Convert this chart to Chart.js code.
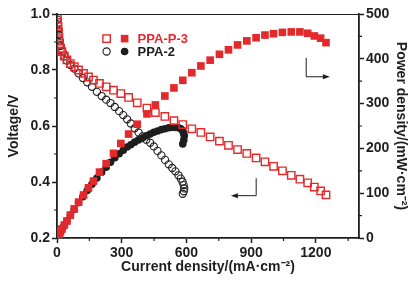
<!DOCTYPE html>
<html>
<head>
<meta charset="utf-8">
<script src="https://cdn.jsdelivr.net/npm/chart.js@4.4.0/dist/chart.umd.min.js"></script>
<style>
  html, body { margin: 0; padding: 0; background: #fff; }
</style>
</head>
<body>
<canvas id="chartPolar" width="415" height="282"></canvas>
<script>
// PPA-P-3 : current density, voltage, power density
const currentP3 = [2, 3, 5, 7, 9, 12, 16, 23, 34, 46, 62, 80, 100, 123, 146, 169, 197, 228, 262, 296,
  332, 372, 417, 456, 500, 542, 583, 625, 667, 710, 753, 795, 837, 880, 923, 964, 1004, 1045, 1086, 1126,
  1162, 1193, 1222, 1247];
const voltageP3 = [0.985, 0.970, 0.955, 0.935, 0.915, 0.895, 0.877, 0.866, 0.850, 0.836, 0.823, 0.812, 0.800, 0.788, 0.775, 0.764, 0.752, 0.740, 0.728, 0.716,
  0.702, 0.683, 0.664, 0.648, 0.634, 0.619, 0.605, 0.590, 0.577, 0.561, 0.546, 0.531, 0.516, 0.502, 0.486, 0.472, 0.456, 0.440, 0.424, 0.410,
  0.397, 0.382, 0.368, 0.354];
const powerP3 = [2, 3, 5, 7, 8, 11, 14, 20, 29, 38, 51, 65, 80, 96, 112, 127, 147, 166, 189, 211,
  232, 254, 277, 297, 317, 335, 352, 369, 384, 397, 410, 420, 431, 440, 447, 453, 456, 459, 460, 460,
  457, 451, 446, 436];

// PPA-2
const currentP2 = [2, 4, 6, 9, 13, 18, 25, 34, 46, 62, 80, 100, 120, 140, 162, 185, 207, 228, 248, 268,
  288, 307, 325, 342, 360, 378, 396, 414, 432, 449, 466, 484, 501, 518, 534, 549, 563, 574, 582, 587,
  590, 588, 583];
const voltageP2 = [0.980, 0.963, 0.945, 0.925, 0.905, 0.886, 0.866, 0.849, 0.834, 0.818, 0.805, 0.788, 0.771, 0.756, 0.740, 0.722, 0.707, 0.694, 0.682, 0.668,
  0.653, 0.639, 0.624, 0.609, 0.592, 0.577, 0.563, 0.551, 0.540, 0.527, 0.511, 0.495, 0.479, 0.463, 0.450, 0.438, 0.424, 0.412, 0.401, 0.389,
  0.377, 0.367, 0.358];
const powerP2 = [2, 4, 6, 8, 12, 16, 22, 29, 38, 51, 64, 79, 92, 106, 120, 134, 147, 158, 169, 179,
  188, 196, 203, 208, 214, 219, 223, 228, 232, 236, 239, 242, 244, 246, 247, 247, 246, 244, 240, 234,
  228, 219, 210];

const xTicks = [0, 300, 600, 900, 1200];
const xMinor = [150, 450, 750, 1050, 1350];
const yTicks = [0.2, 0.4, 0.6, 0.8, 1.0];
const yMinor = [0.3, 0.5, 0.7, 0.9];
const y1Ticks = [0, 100, 200, 300, 400, 500];
const y1Minor = [50, 150, 250, 350, 450];

const RED = "#e2292b";
const INK = "#1e1e1e";
const FONT = "'Liberation Sans', Arial, sans-serif";

function pts(xs, ys) {
  return xs.map((x, i) => ({ x: x, y: ys[i] }));
}

// first dataset is drawn on top
const data = {
  datasets: [
    {
      label: "PPA-P-3 power",
      data: pts(currentP3, powerP3),
      yAxisID: "y1",
      pointStyle: "rect",
      pointRadius: 5.4,
      borderColor: RED,
      backgroundColor: RED,
      pointBorderWidth: 0,
    },
    {
      label: "PPA-P-3 voltage",
      data: pts(currentP3, voltageP3),
      yAxisID: "y",
      pointStyle: "rect",
      pointRadius: 5.2,
      borderColor: RED,
      backgroundColor: "rgba(255,255,255,0)",
      pointBorderWidth: 1.4,
    },
    {
      label: "PPA-2 power",
      data: pts(currentP2, powerP2),
      yAxisID: "y1",
      pointStyle: "circle",
      pointRadius: 3.8,
      borderColor: INK,
      backgroundColor: INK,
      pointBorderWidth: 0,
    },
    {
      label: "PPA-2 voltage",
      data: pts(currentP2, voltageP2),
      yAxisID: "y",
      pointStyle: "circle",
      pointRadius: 3.6,
      borderColor: INK,
      backgroundColor: "rgba(255,255,255,0)",
      pointBorderWidth: 1.1,
    },
  ],
};

const tickFont = { family: FONT, size: 14, weight: "bold" };
const titleFont = { family: FONT, size: 14, weight: "bold" };

function axisBase(ticksList, fmt) {
  return {
    afterBuildTicks: (scale) => {
      scale.ticks = ticksList.map((v) => ({ value: v }));
    },
    grid: { display: true, drawOnChartArea: false, drawTicks: true, tickLength: 5, tickColor: INK, tickWidth: 1.5 },
    border: { display: true, color: INK, width: 1.8 },
    ticks: { color: INK, font: tickFont, padding: 2, callback: fmt },
  };
}

const extras = {
  id: "extras",
  afterDraw(chart) {
    const ctx = chart.ctx;
    const area = chart.chartArea;
    const sx = chart.scales.x, sy = chart.scales.y, sy1 = chart.scales.y1;
    ctx.save();
    // top frame line
    ctx.strokeStyle = INK;
    ctx.lineWidth = 1;
    ctx.beginPath();
    ctx.moveTo(area.left, area.top + 0.5);
    ctx.lineTo(area.right, area.top + 0.5);
    ctx.stroke();

    // minor ticks
    ctx.lineWidth = 1.2;
    ctx.beginPath();
    xMinor.forEach((v) => {
      const px = sx.getPixelForValue(v);
      ctx.moveTo(px, area.bottom);
      ctx.lineTo(px, area.bottom + 3);
    });
    yMinor.forEach((v) => {
      const py = sy.getPixelForValue(v);
      ctx.moveTo(area.left, py);
      ctx.lineTo(area.left - 3, py);
    });
    y1Minor.forEach((v) => {
      const py = sy1.getPixelForValue(v);
      ctx.moveTo(area.right, py);
      ctx.lineTo(area.right + 3, py);
    });
    ctx.stroke();

    // legend
    const lx = sx.getPixelForValue(230);
    const row1 = sy.getPixelForValue(0.912);
    const row2 = sy.getPixelForValue(0.866);
    const gap = 18;
    ctx.lineWidth = 1.4;
    ctx.strokeStyle = RED;
    ctx.strokeRect(lx - 3.7, row1 - 3.7, 7.4, 7.4);
    ctx.fillStyle = RED;
    ctx.fillRect(lx + gap - 3.8, row1 - 3.8, 7.6, 7.6);
    ctx.strokeStyle = INK;
    ctx.lineWidth = 1.1;
    ctx.beginPath();
    ctx.arc(lx, row2, 3.6, 0, Math.PI * 2);
    ctx.stroke();
    ctx.fillStyle = INK;
    ctx.beginPath();
    ctx.arc(lx + gap, row2, 3.8, 0, Math.PI * 2);
    ctx.fill();
    ctx.font = "bold 13px " + FONT;
    ctx.textBaseline = "middle";
    ctx.textAlign = "left";
    ctx.fillStyle = RED;
    ctx.fillText("PPA-P-3", lx + gap + 13, row1 + 0.5);
    ctx.fillStyle = INK;
    ctx.fillText("PPA-2", lx + gap + 13, row2 + 0.5);

    // arrows
    ctx.strokeStyle = INK;
    ctx.fillStyle = INK;
    ctx.lineWidth = 1;
    const a1x = sx.getPixelForValue(1153);
    const a1t = sy1.getPixelForValue(402);
    const a1b = sy1.getPixelForValue(361);
    const a1e = sx.getPixelForValue(1265);
    ctx.beginPath();
    ctx.moveTo(a1x + 0.5, a1t);
    ctx.lineTo(a1x + 0.5, a1b + 0.5);
    ctx.lineTo(a1e - 5, a1b + 0.5);
    ctx.stroke();
    ctx.beginPath();
    ctx.moveTo(a1e, a1b + 0.5);
    ctx.lineTo(a1e - 7, a1b - 2);
    ctx.lineTo(a1e - 7, a1b + 3);
    ctx.closePath();
    ctx.fill();

    const a2x = sx.getPixelForValue(921);
    const a2t = sy.getPixelForValue(0.4135);
    const a2b = sy.getPixelForValue(0.353);
    const a2e = sx.getPixelForValue(806);
    ctx.beginPath();
    ctx.moveTo(a2x + 0.5, a2t);
    ctx.lineTo(a2x + 0.5, a2b + 0.5);
    ctx.lineTo(a2e + 5, a2b + 0.5);
    ctx.stroke();
    ctx.beginPath();
    ctx.moveTo(a2e, a2b + 0.5);
    ctx.lineTo(a2e + 7, a2b - 2);
    ctx.lineTo(a2e + 7, a2b + 3);
    ctx.closePath();
    ctx.fill();
    ctx.restore();
  },
};

const config = {
  type: "scatter",
  data,
  options: {
    responsive: false,
    animation: false,
    layout: { padding: { top: 14, left: 0, right: 0, bottom: 0 } },
    plugins: { legend: { display: false }, tooltip: { enabled: false } },
    scales: {
      x: Object.assign(axisBase(xTicks, (v) => String(v)), {
        type: "linear",
        min: 0,
        max: 1400,
        afterFit: (scale) => { scale.height = 44; },
        title: { display: true, text: "Current density/(mA·cm⁻²)", color: INK, font: titleFont, padding: { top: 0, bottom: 6 } },
      }),
      y: Object.assign(axisBase(yTicks, (v) => Number(v).toFixed(1)), {
        type: "linear",
        position: "left",
        min: 0.2,
        max: 1.0,
        afterFit: (scale) => { scale.width = 57; },
        title: { display: true, text: "Voltage/V", color: INK, font: titleFont, padding: { top: 6, bottom: 0 } },
      }),
      y1: Object.assign(axisBase(y1Ticks, (v) => String(v)), {
        type: "linear",
        position: "right",
        min: 0,
        max: 500,
        afterFit: (scale) => { scale.width = 56; },
        title: { display: true, text: "Power density/(mW·cm⁻²)", color: INK, font: titleFont, padding: { top: 6, bottom: 0 } },
      }),
    },
  },
  plugins: [extras],
};

const chartPolar = new Chart(document.getElementById("chartPolar"), config);
</script>
</body>
</html>
